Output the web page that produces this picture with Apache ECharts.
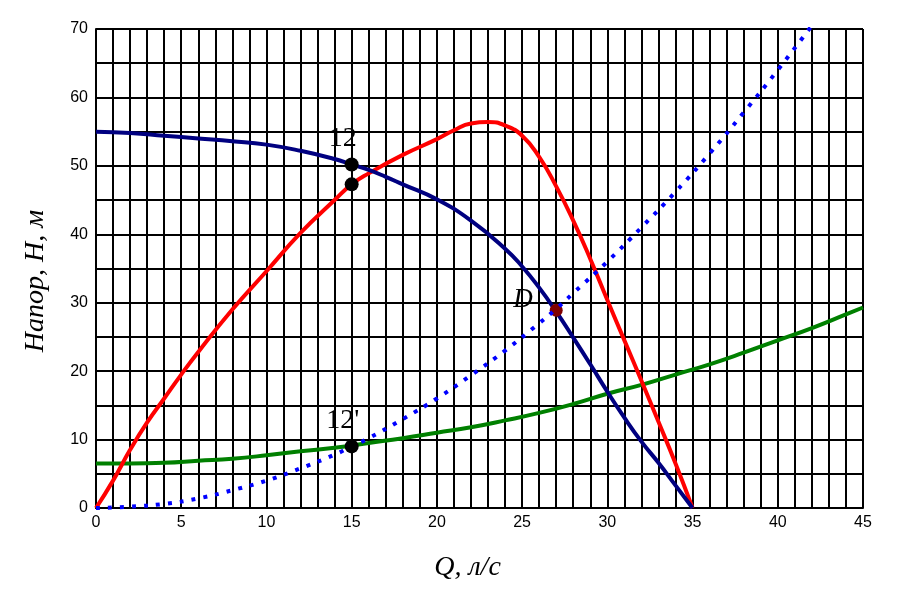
<!DOCTYPE html>
<html>
<head>
<meta charset="utf-8">
<script src="https://cdn.jsdelivr.net/npm/echarts@6/dist/echarts.min.js"></script>
<style>html,body{margin:0;padding:0;background:#fff}#c{width:900px;height:600px}</style>
</head>
<body>
<div id="c"></div>
<script>
// Pump head curve H-Q (navy)
const qPump = [0, 2, 4, 6, 8, 10, 12, 14, 15, 16, 17, 18, 20, 22, 24, 25, 26, 27, 28, 29, 30, 31, 32, 33, 34, 35];
const hPump = [55, 54.8, 54.4, 54, 53.6, 53.1, 52.2, 51, 50.2, 49.4, 48.4, 47.3, 45.1, 42, 37.9, 35.3, 32.2, 28.7, 24.9, 21, 17, 13.2, 9.7, 6.6, 3.3, 0];
// Red curve
const qRed = [0, 1, 2, 3, 4, 5, 6, 8, 10, 12, 14, 15, 16, 18, 20, 21, 22, 23, 24, 25, 26, 27, 28, 29, 30, 31, 32, 33, 34, 35];
const hRed = [0, 4, 8.5, 12.5, 16, 19.5, 22.8, 29, 34.6, 40.2, 45, 47.3, 48.9, 51.6, 53.9, 55.2, 56.2, 56.4, 55.9, 54.4, 51.3, 47, 42, 36.4, 30.4, 24.5, 18.6, 12.6, 6.5, 0];
// Green system curve
const qSys = [0, 2, 4, 6, 8, 10, 12, 14, 16, 18, 20, 22, 24, 26, 28, 30, 32, 34, 36, 38, 40, 42, 44, 45];
const hSys = [6.5, 6.5, 6.6, 6.9, 7.2, 7.7, 8.3, 8.8, 9.5, 10.2, 11, 11.8, 12.8, 13.9, 15.2, 16.7, 18, 19.5, 21, 22.7, 24.5, 26.3, 28.3, 29.3];
// Blue dotted curve
const qDot = [0, 2, 4, 6, 8, 10, 12, 14, 15, 16, 18, 20, 22, 24, 26, 27, 28, 30, 32, 34, 36, 38, 40, 42];
const hDot = [0, 0.2, 0.6, 1.4, 2.6, 4, 5.8, 7.8, 9, 10.2, 13, 16, 19.4, 23, 27, 29.1, 31.4, 36, 41, 46.2, 51.8, 57.8, 64, 70.5];
// Marked points
const ptLabels = ['12', '', "12'"];
const ptQ = [15, 15, 15];
const ptH = [50.2, 47.3, 9];
const dQ = [27];
const dH = [28.9];
// Axis ticks
const xTicks = [0, 5, 10, 15, 20, 25, 30, 35, 40, 45];
const yTicks = [0, 10, 20, 30, 40, 50, 60, 70];

const zip = (a, b) => a.map((v, i) => [v, b[i]]);
const chart = echarts.init(document.getElementById('c'));
const serif = '"Liberation Serif", "Times New Roman", serif';
const sans = '"Liberation Sans", Arial, sans-serif';
chart.setOption({
  animation: false,
  backgroundColor: '#fff',
  grid: { left: 96, right: 37, top: 29, bottom: 92 },
  xAxis: {
    type: 'value', min: 0, max: 45, interval: 1,
    name: 'Q, л/с', nameLocation: 'middle', nameGap: 46,
    nameTextStyle: { fontFamily: serif, fontStyle: 'italic', fontSize: 28, color: '#000', padding: [0, 24, 0, 0] },
    axisLine: { show: true, lineStyle: { color: '#000', width: 2 } },
    axisTick: { show: false },
    axisLabel: { color: '#000', fontFamily: sans, fontSize: 16, margin: 7,
      formatter: v => xTicks.includes(v) ? String(v) : '' },
    splitLine: { show: true, lineStyle: { color: '#000', width: 2 } }
  },
  yAxis: {
    type: 'value', min: 0, max: 70, interval: 5,
    name: 'Напор, Н, м', nameLocation: 'middle', nameGap: 46, nameRotate: 90,
    nameTextStyle: { fontFamily: serif, fontStyle: 'italic', fontSize: 28, color: '#000', padding: [0, 25, 0, 0] },
    axisLine: { show: true, lineStyle: { color: '#000', width: 2 } },
    axisTick: { show: false },
    axisLabel: { color: '#000', fontFamily: sans, fontSize: 16, margin: 8,
      formatter: v => yTicks.includes(v) ? String(v) : '' },
    splitLine: { show: true, lineStyle: { color: '#000', width: 2 } }
  },
  series: [
    { type: 'line', data: zip(qSys, hSys), smooth: true, showSymbol: false, lineStyle: { color: '#008000', width: 4 }, z: 3 },
    { type: 'line', data: zip(qRed, hRed), smooth: true, showSymbol: false, lineStyle: { color: '#FF0000', width: 4 }, z: 3 },
    { type: 'line', data: zip(qPump, hPump), smooth: true, showSymbol: false, lineStyle: { color: '#000080', width: 4 }, z: 4 },
    { type: 'scatter', data: zip(dQ, dH), symbolSize: 13, itemStyle: { color: '#800000', opacity: 1 }, z: 5,
      label: { show: true, formatter: 'D', position: 'left', offset: [-12, -10], fontFamily: serif, fontStyle: 'italic', fontSize: 27, color: '#000' } },
    { type: 'line', data: zip(qDot, hDot), smooth: true, showSymbol: false, lineStyle: { color: '#0000FF', width: 4, type: [4, 8], cap: 'butt' }, z: 6 },
    { type: 'scatter', data: ptQ.map((q, i) => ({ value: [q, ptH[i]], name: ptLabels[i] })), symbolSize: 14, itemStyle: { color: '#000', opacity: 1 }, z: 7,
      label: { show: true, formatter: p => p.name, position: 'top', offset: [-9, 0], fontFamily: serif, fontSize: 28, color: '#000' } }
  ]
});
</script>
</body>
</html>
